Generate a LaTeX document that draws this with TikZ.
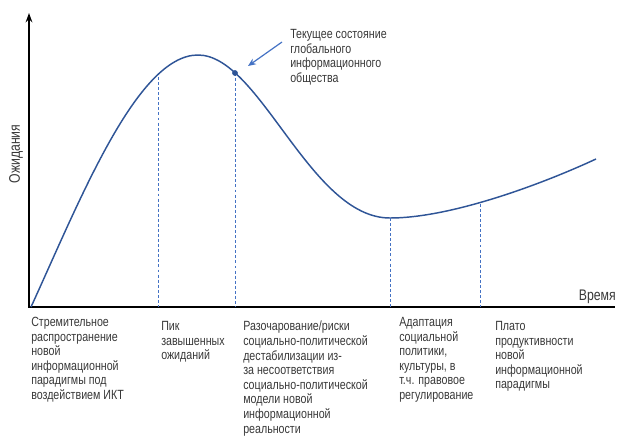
\documentclass[tikz,border=0pt]{standalone}
\usepackage{fontspec}
\setmainfont{Liberation Sans}[FakeStretch=0.8]
\usepackage{tikz}
\usetikzlibrary{arrows.meta}

\definecolor{curveblue}{HTML}{2F5597}
\definecolor{lineblue}{HTML}{4472C4}
\definecolor{txtgray}{HTML}{383838}

\tikzset{
    phase/.style={anchor=north west, align=left, inner sep=0pt, text=txtgray,
        font=\fontsize{10}{10.95}\selectfont},
    axislabel/.style={inner sep=0pt, text=txtgray, font=\fontsize{11.5}{12}\selectfont},
    drop/.style={lineblue, line width=0.7pt, dash pattern=on 2.2pt off 1.6pt},
}

\begin{document}
\begin{tikzpicture}[x=0.75pt, y=-0.75pt]
                \useasboundingbox (0,0) rectangle (621,436);

                % Axes
                \coordinate (origin) at (29,307);
                \coordinate (ytop) at (29,13);
                \coordinate (xend) at (615,307);
                \draw[-{Stealth[length=7pt,width=5pt]}, line width=1.5pt] (origin)--(ytop);
                \draw[line width=1.5pt] ([xshift=-0.75pt]origin)--(xend);
                \node[axislabel, rotate=90] (expect) at (16,154) {Ожидания};
                \node[axislabel, anchor=base east] (time) at (616,300) {Время};

                % Hype curve
                \coordinate (peak) at (198,55);
                \coordinate (trough) at (390,218);
                \draw[curveblue, line width=1.1pt] (31,307) .. controls (80,200) and (137,55) .. (peak)
                    .. controls (260,55) and (310,218) .. (trough)
                    .. controls (450,218) and (540,185) .. (596,159);

                % Phase borders
                \coordinate (b1) at (158,77);
                \coordinate (b2) at (235,73);
                \coordinate (b3) at (390,218);
                \coordinate (b4) at (480,204);
                \foreach \b in {b1,b2,b3,b4}
                    \draw[drop] (\b) -- (\b |- origin);

                % Current state
                \filldraw[curveblue] (b2) circle[radius=1.9pt];
                \node[phase] (note) at (290,29) {Текущее состояние\\глобального\\информационного\\общества};
                \coordinate (tail) at (282,42);
                \coordinate (head) at (248,66);
                \draw[lineblue, line width=0.9pt, -{Stealth[length=6pt,width=5pt]}] (tail) -- (head);

                % Phase labels
                \node[phase] (phase1) at (31,317) {Стремительное\\распространение\\новой\\информационной\\парадигмы под\\воздействием ИКТ};
                \node[phase] (phase2) at (161,321) {Пик\\завышенных\\ожиданий};
                \node[phase] (phase3) at (243,321) {Разочарование/риски\\социально-политической\\дестабилизации из-\\за несоответствия\\социально-политической\\модели новой\\информационной\\реальности};
                \node[phase] (phase4) at (399,317) {Адаптация\\социальной\\политики,\\культуры, в\\т.ч. правовое\\регулирование};
                \node[phase] (phase5) at (495,321) {Плато\\продуктивности\\новой\\информационной\\парадигмы};

            \end{tikzpicture}
\end{document}
